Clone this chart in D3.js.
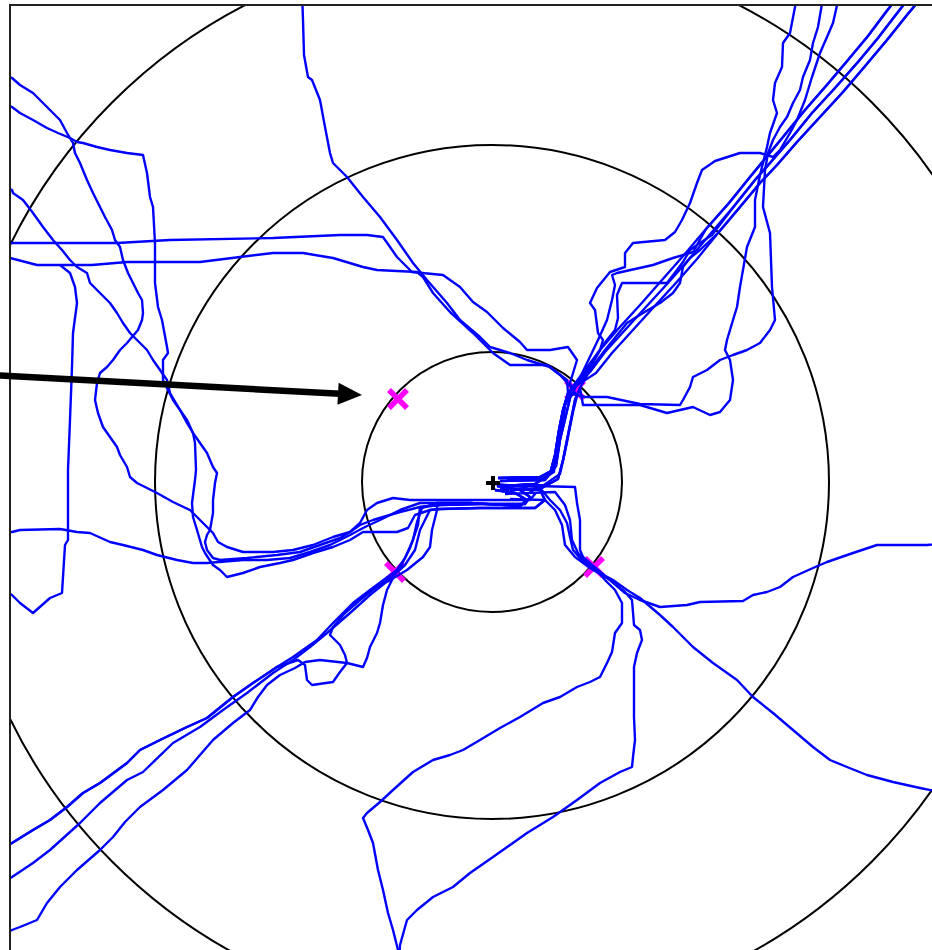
<!DOCTYPE html>
<html>
<head>
<meta charset="utf-8">
<script src="https://cdn.jsdelivr.net/npm/d3@7"></script>
<style>
  html, body { margin: 0; padding: 0; background: #fff; }
  svg { display: block; }
</style>
</head>
<body>
<svg id="chart" width="932" height="950"></svg>
<script>
// Arena coordinates in tracker units: origin at the arena centre, x right, y down.
const arenaX = [-482, 482];
const arenaY = [-477, 487];
const ringRadii = [130, 337, 537];
const releasePoint = [1, 1];
const exitMarks = [[-94, -83], [83, -92], [-97, 90], [102, 85]];
const arrowFrom = [-502, -107];
const arrowTo = [-130, -87];

// ---- north-east exit: stems from the release point, then the outbound legs
const stemNE1 = [[6,-4],[48,-5],[61,-12],[66,-32],[70,-57],[73,-77],[80,-92]];
const stemNE2 = [[8,-1],[53,-2],[64,-16],[68,-42],[74,-67],[78,-84],[84,-96]];
const stemNE3 = [[13,4],[43,2],[58,-8],[63,-27],[67,-52],[71,-72],[76,-89]];
const stemNE4 = [[18,8],[48,7],[66,-3],[71,-22],[75,-42],[79,-62],[83,-82],[88,-94]];
const stemNE5 = [[15,-2],[50,-3],[62,-10],[64,-30],[68,-55],[72,-75],[78,-90]];
const stemNE6 = [[20,4],[52,3],[68,-8],[73,-30],[77,-50],[81,-70],[85,-86]];

const legDiagA = [[98,-110],[113,-130],[133,-152],[153,-174],[176,-199],[198,-224],[220,-250],[243,-277],[263,-302],[278,-319],[298,-342],[320,-369],[343,-394],[366,-420],[386,-444],[406,-470],[413,-479],[420,-490]];
const legDiagB = [[104,-109],[120,-129],[140,-151],[160,-173],[183,-198],[205,-223],[226,-249],[248,-275],[268,-299],[285,-317],[305,-340],[328,-365],[351,-390],[374,-417],[395,-442],[415,-467],[425,-479],[433,-490]];
const legDiagC = [[93,-112],[108,-132],[127,-154],[148,-177],[170,-202],[192,-227],[214,-253],[237,-279],[258,-305],[272,-322],[291,-345],[313,-372],[334,-396],[356,-422],[376,-446],[394,-470],[401,-479],[409,-490]];

const legNorth1 = [[91,-77],[148,-77],[175,-69],[201,-75],[218,-67],[228,-70],[238,-82],[241,-102],[238,-122],[233,-132],[235,-142],[241,-162],[245,-175],[248,-195],[255,-235],[263,-255],[263,-282],[268,-307],[275,-335],[278,-349],[285,-369],[281,-382],[283,-399],[290,-415],[291,-439],[298,-449],[303,-475],[305,-490]];
const legNorth2 = [[93,-85],[115,-85],[148,-78],[188,-77],[191,-82],[198,-95],[201,-105],[215,-112],[228,-122],[241,-127],[255,-132],[268,-139],[278,-152],[283,-162],[280,-195],[278,-249],[271,-275],[273,-312],[276,-329],[281,-342],[288,-355],[295,-365],[301,-379],[308,-392],[311,-405],[318,-422],[321,-439],[326,-455],[332,-490]];
const legLoop1 = [[93,-110],[108,-132],[111,-142],[106,-149],[103,-172],[98,-179],[105,-194],[118,-210],[133,-215],[133,-229],[141,-239],[173,-242],[183,-250],[190,-262],[198,-279],[205,-299],[210,-312],[223,-321],[248,-329],[268,-329],[281,-325],[288,-332],[298,-349],[305,-362],[313,-382],[320,-405],[328,-429],[335,-445],[341,-459],[348,-490]];
const legLoop2 = [[98,-114],[111,-137],[123,-152],[126,-164],[125,-187],[130,-199],[153,-199],[175,-199],[185,-212],[191,-220],[198,-232],[205,-237],[220,-247],[243,-277],[263,-302],[278,-319],[298,-342],[320,-369],[343,-394],[366,-420],[386,-444],[406,-470],[413,-479],[420,-490]];
const legLoop3 = [[98,-112],[113,-132],[135,-159],[151,-169],[168,-179],[181,-189],[188,-199],[191,-215],[198,-224],[208,-232],[226,-249],[248,-275],[268,-299],[285,-317],[305,-340],[328,-365],[351,-390],[374,-417],[395,-442],[415,-467],[425,-479],[433,-490]];
const legLoop4 = [[106,-142],[115,-162],[120,-182],[123,-197],[120,-207],[125,-209],[161,-217],[181,-224],[201,-230],[214,-253],[237,-279],[258,-305],[272,-322],[291,-345],[313,-372],[334,-396],[356,-422],[376,-446],[394,-470],[401,-479],[409,-490]];
const legWestH1 = [[78,-99],[85,-122],[76,-135],[58,-132],[35,-132],[28,-140],[11,-154],[-5,-170],[-19,-180],[-32,-195],[-49,-207],[-80,-210],[-95,-225],[-109,-245],[-125,-247],[-152,-247],[-219,-244],[-322,-242],[-375,-239],[-432,-239],[-482,-239],[-495,-239]];
const legWestH2 = [[80,-94],[68,-107],[55,-117],[18,-117],[1,-129],[-19,-149],[-42,-170],[-59,-189],[-69,-205],[-75,-210],[-115,-212],[-129,-215],[-159,-224],[-189,-229],[-219,-229],[-252,-225],[-292,-220],[-365,-220],[-400,-217],[-455,-217],[-482,-224],[-495,-226]];
const legNorthT1 = [[75,-102],[58,-115],[35,-122],[18,-129],[-2,-135],[-12,-145],[-32,-162],[-45,-179],[-65,-202],[-79,-219],[-95,-242],[-112,-265],[-129,-285],[-145,-305],[-159,-319],[-162,-329],[-167,-355],[-172,-382],[-180,-402],[-184,-405],[-188,-427],[-189,-462],[-190,-490]];

// ---- west and south-west: stems along the lower-left corridor
const stemW1 = [[3,2],[33,5],[43,12],[38,18],[-12,18],[-52,18],[-72,18]];
const stemW2 = [[5,4],[28,8],[38,15],[33,22],[-12,22],[-52,23],[-72,25]];
const stemW3 = [[8,6],[48,8],[53,18],[43,26],[-12,26],[-52,27],[-62,28]];
const stemW4 = [[3,8],[23,11],[35,18],[28,24],[-22,21],[-55,21]];

const legWest1 = [[-82,18],[-99,16],[-115,21],[-125,28],[-132,41],[-142,50],[-159,55],[-179,63],[-199,68],[-219,70],[-249,70],[-265,65],[-274,60],[-279,51],[-285,45],[-292,38],[-302,28],[-319,20],[-335,11],[-355,1],[-362,-5],[-365,-15],[-372,-27],[-375,-35],[-382,-45],[-389,-55],[-394,-69],[-397,-82],[-395,-99],[-392,-109],[-385,-115],[-379,-122],[-372,-132],[-365,-139],[-360,-145],[-354,-152],[-350,-162],[-349,-169],[-350,-182],[-354,-189],[-359,-199],[-364,-209],[-369,-222],[-372,-235],[-377,-242],[-380,-252],[-387,-265],[-392,-275],[-399,-289],[-405,-302],[-412,-319],[-417,-329],[-419,-339],[-425,-349],[-432,-362],[-445,-375],[-459,-389],[-472,-397],[-480,-404],[-492,-410]];
const legWest2 = [[-92,30],[-109,35],[-119,38],[-132,43],[-142,50],[-152,56],[-172,63],[-192,70],[-215,73],[-245,76],[-272,78],[-279,76],[-285,68],[-287,60],[-285,53],[-282,48],[-279,31],[-279,18],[-277,1],[-275,-9],[-279,-15],[-285,-29],[-292,-39],[-299,-49],[-305,-62],[-312,-72],[-322,-89],[-325,-102],[-332,-112],[-339,-122],[-345,-132],[-352,-139],[-362,-149],[-369,-159],[-375,-169],[-382,-179],[-392,-189],[-402,-199],[-405,-209],[-415,-215],[-422,-222],[-430,-232],[-439,-242],[-449,-255],[-459,-269],[-469,-282],[-479,-289],[-480,-292],[-492,-297]];
const legWest3 = [[-77,33],[-84,46],[-95,50],[-129,50],[-142,58],[-159,65],[-179,71],[-199,78],[-212,81],[-232,85],[-249,91],[-265,95],[-272,88],[-279,83],[-287,71],[-290,65],[-295,48],[-299,35],[-300,21],[-297,-2],[-296,-12],[-297,-39],[-299,-49],[-305,-59],[-312,-72],[-319,-82],[-324,-92],[-329,-102],[-329,-122],[-324,-129],[-325,-135],[-330,-162],[-334,-175],[-337,-199],[-337,-239],[-339,-275],[-342,-285],[-345,-309],[-349,-327],[-365,-329],[-382,-332],[-395,-335],[-409,-339],[-415,-340],[-422,-344],[-434,-349],[-445,-354],[-459,-362],[-472,-369],[-480,-375],[-492,-380]];
const legWest4 = [[-72,21],[-92,28],[-112,38],[-127,45],[-142,53],[-162,63],[-182,70],[-202,76],[-225,78],[-249,78],[-285,81],[-299,81],[-315,78],[-335,73],[-349,68],[-369,63],[-382,60],[-402,51],[-415,50],[-432,47],[-472,48],[-480,50],[-492,50]];
const legEdgeWest = [[-432,-217],[-422,-209],[-417,-195],[-415,-179],[-419,-149],[-420,-115],[-422,-62],[-424,-12],[-424,58],[-427,63],[-429,95],[-430,111],[-442,116],[-459,131],[-472,121],[-480,113],[-492,106]];

const legSouthWest1 = [[-70,26],[-75,40],[-79,58],[-87,76],[-95,88],[-99,91],[-122,108],[-139,121],[-159,141],[-175,158],[-199,175],[-215,185],[-239,201],[-259,215],[-285,236],[-305,245],[-332,258],[-352,268],[-365,281],[-392,301],[-409,311],[-425,325],[-442,338],[-459,348],[-480,361],[-492,368]];
const legSouthWest2 = [[-60,48],[-62,65],[-69,75],[-85,88],[-95,94],[-107,101],[-122,113],[-142,131],[-165,151],[-182,165],[-199,178],[-219,191],[-245,211],[-269,228],[-292,245],[-319,261],[-349,290],[-365,298],[-392,321],[-412,341],[-442,368],[-459,381],[-480,395],[-492,403]];
const legSouthWest3 = [[-72,48],[-77,68],[-87,83],[-97,92],[-105,108],[-109,123],[-112,141],[-115,151],[-122,165],[-125,176],[-129,185],[-145,181],[-172,178],[-187,180],[-197,186],[-212,193],[-225,203],[-234,215],[-242,228],[-259,241],[-279,258],[-292,273],[-305,288],[-329,308],[-352,325],[-367,340],[-379,355],[-392,368],[-415,388],[-432,405],[-445,421],[-455,438],[-472,445],[-480,448],[-492,454]];
const legSouthWest4 = [[-74,43],[-82,66],[-92,86],[-100,95],[-117,106],[-132,118],[-147,131],[-159,145],[-162,153],[-152,163],[-147,173],[-145,181],[-152,190],[-159,200],[-180,203],[-185,198],[-187,183],[-194,178],[-215,185],[-239,201],[-259,215],[-285,236],[-305,245],[-332,258],[-352,268],[-365,281],[-392,301],[-409,311],[-425,325],[-442,338],[-459,348],[-480,361],[-492,368]];

// ---- south-east exit
const stemSE1 = [[6,3],[83,5],[85,21],[88,38],[88,68],[91,75],[100,83]];
const stemSE2 = [[8,8],[48,6],[58,18],[68,28],[75,41],[78,55],[81,68],[88,76],[98,85]];
const stemSE3 = [[13,12],[63,10],[73,23],[78,38],[80,58],[86,71],[95,81],[103,86]];
const stemSE4 = [[18,17],[53,18],[63,28],[70,43],[73,63],[83,75],[98,86]];

const legEast = [[118,98],[133,111],[148,118],[168,125],[195,123],[208,120],[251,119],[261,113],[275,110],[288,105],[301,95],[321,86],[335,80],[361,71],[385,63],[435,63],[488,58]];
const legSouthEast = [[108,91],[121,98],[135,108],[148,116],[168,133],[181,145],[201,165],[221,181],[245,198],[261,215],[281,231],[301,248],[321,265],[338,278],[355,285],[375,293],[401,300],[428,306],[488,318]];
const legSouth1 = [[113,98],[123,108],[130,121],[130,141],[123,151],[120,170],[115,181],[108,195],[98,200],[85,205],[68,215],[51,221],[28,235],[8,246],[-12,258],[-29,268],[-42,273],[-59,278],[-79,290],[-99,308],[-112,320],[-125,331],[-129,336],[-124,348],[-119,361],[-114,388],[-109,408],[-104,431],[-99,448],[-94,468],[-91,493]];
const legSouth2 = [[118,98],[133,110],[140,118],[142,143],[148,148],[150,158],[145,171],[142,185],[142,235],[143,258],[141,275],[140,285],[128,290],[108,301],[85,318],[61,335],[35,351],[1,375],[-22,391],[-39,405],[-59,415],[-75,428],[-85,438],[-92,463],[-94,493]];

const tracksNE = [
  stemNE1.concat(legDiagA),
  stemNE2.concat(legDiagB),
  stemNE3.concat(legDiagC),
  stemNE4.concat(legNorth1),
  stemNE3.concat(legNorth2),
  stemNE5.concat(legLoop1),
  stemNE1.concat(legLoop2),
  stemNE4.concat(legLoop3),
  stemNE2.concat(legLoop4),
  stemNE1.concat(legWestH1),
  stemNE6.concat(legWestH2),
  stemNE3.concat(legNorthT1)
];
const tracksW = [
  stemW1.concat(legWest1),
  stemW2.concat(legWest2),
  stemW3.concat(legWest3),
  stemW4.concat(legWest4),
  legEdgeWest
];
const tracksSW = [
  stemW4.concat(legSouthWest1),
  stemW4.concat([[-55,28]], legSouthWest2),
  stemW3.concat(legSouthWest3),
  stemW2.concat(legSouthWest4)
];
const tracksSE = [
  stemSE1.concat(legEast),
  stemSE2.concat(legSouthEast),
  stemSE3.concat(legSouth1),
  stemSE4.concat(legSouth2)
];

// ---- drawing
const svg = d3.select("#chart");
const x = d3.scaleLinear().domain(arenaX).range([10, 974]);
const y = d3.scaleLinear().domain(arenaY).range([5, 969]);
const rpx = r => x(r) - x(0);

svg.append("defs").append("clipPath").attr("id", "arena")
  .append("rect")
  .attr("x", x(arenaX[0])).attr("y", y(arenaY[0]))
  .attr("width", x(arenaX[1]) - x(arenaX[0]))
  .attr("height", y(arenaY[1]) - y(arenaY[0]));

const plot = svg.append("g").attr("clip-path", "url(#arena)");

plot.selectAll("circle.ring").data(ringRadii).join("circle")
  .attr("class", "ring")
  .attr("cx", x(0)).attr("cy", y(0))
  .attr("r", d => rpx(d))
  .attr("fill", "none").attr("stroke", "#000").attr("stroke-width", 2);

// exit marks (crosses)
const h = 9;
plot.selectAll("path.exit").data(exitMarks).join("path")
  .attr("class", "exit")
  .attr("d", d => {
    const cx = x(d[0]), cy = y(d[1]);
    return `M${cx - h},${cy - h}L${cx + h},${cy + h}M${cx - h},${cy + h}L${cx + h},${cy - h}`;
  })
  .attr("stroke", "#ff00ff").attr("stroke-width", 5.5).attr("fill", "none");

const line = d3.line().x(d => x(d[0])).y(d => y(d[1]));
const allTracks = [].concat(tracksNE, tracksW, tracksSW, tracksSE);
plot.selectAll("path.track").data(allTracks).join("path")
  .attr("class", "track")
  .attr("d", line)
  .attr("fill", "none").attr("stroke", "#0000ff").attr("stroke-width", 2.4)
  .attr("stroke-linejoin", "round");

// release point
const p = 7;
svg.append("path")
  .attr("d", `M${x(releasePoint[0]) - p},${y(releasePoint[1])}H${x(releasePoint[0]) + p}M${x(releasePoint[0])},${y(releasePoint[1]) - p}V${y(releasePoint[1]) + p}`)
  .attr("stroke", "#000").attr("stroke-width", 4);

// arena border
svg.append("rect")
  .attr("x", x(arenaX[0])).attr("y", y(arenaY[0]))
  .attr("width", x(arenaX[1]) - x(arenaX[0]))
  .attr("height", y(arenaY[1]) - y(arenaY[0]))
  .attr("fill", "none").attr("stroke", "#222").attr("stroke-width", 2);

// pointer arrow
const ax0 = x(arrowFrom[0]), ay0 = y(arrowFrom[1]);
const ax1 = x(arrowTo[0]), ay1 = y(arrowTo[1]);
const ang = Math.atan2(ay1 - ay0, ax1 - ax0);
const headLen = 24, headHalf = 11;
const bx = ax1 - headLen * Math.cos(ang), by = ay1 - headLen * Math.sin(ang);
svg.append("line")
  .attr("x1", ax0).attr("y1", ay0).attr("x2", bx + 2 * Math.cos(ang)).attr("y2", by + 2 * Math.sin(ang))
  .attr("stroke", "#000").attr("stroke-width", 6.5);
svg.append("path")
  .attr("d", `M${ax1},${ay1}L${bx - headHalf * Math.sin(ang)},${by + headHalf * Math.cos(ang)}L${bx + headHalf * Math.sin(ang)},${by - headHalf * Math.cos(ang)}Z`)
  .attr("fill", "#000");
</script>
</body>
</html>
